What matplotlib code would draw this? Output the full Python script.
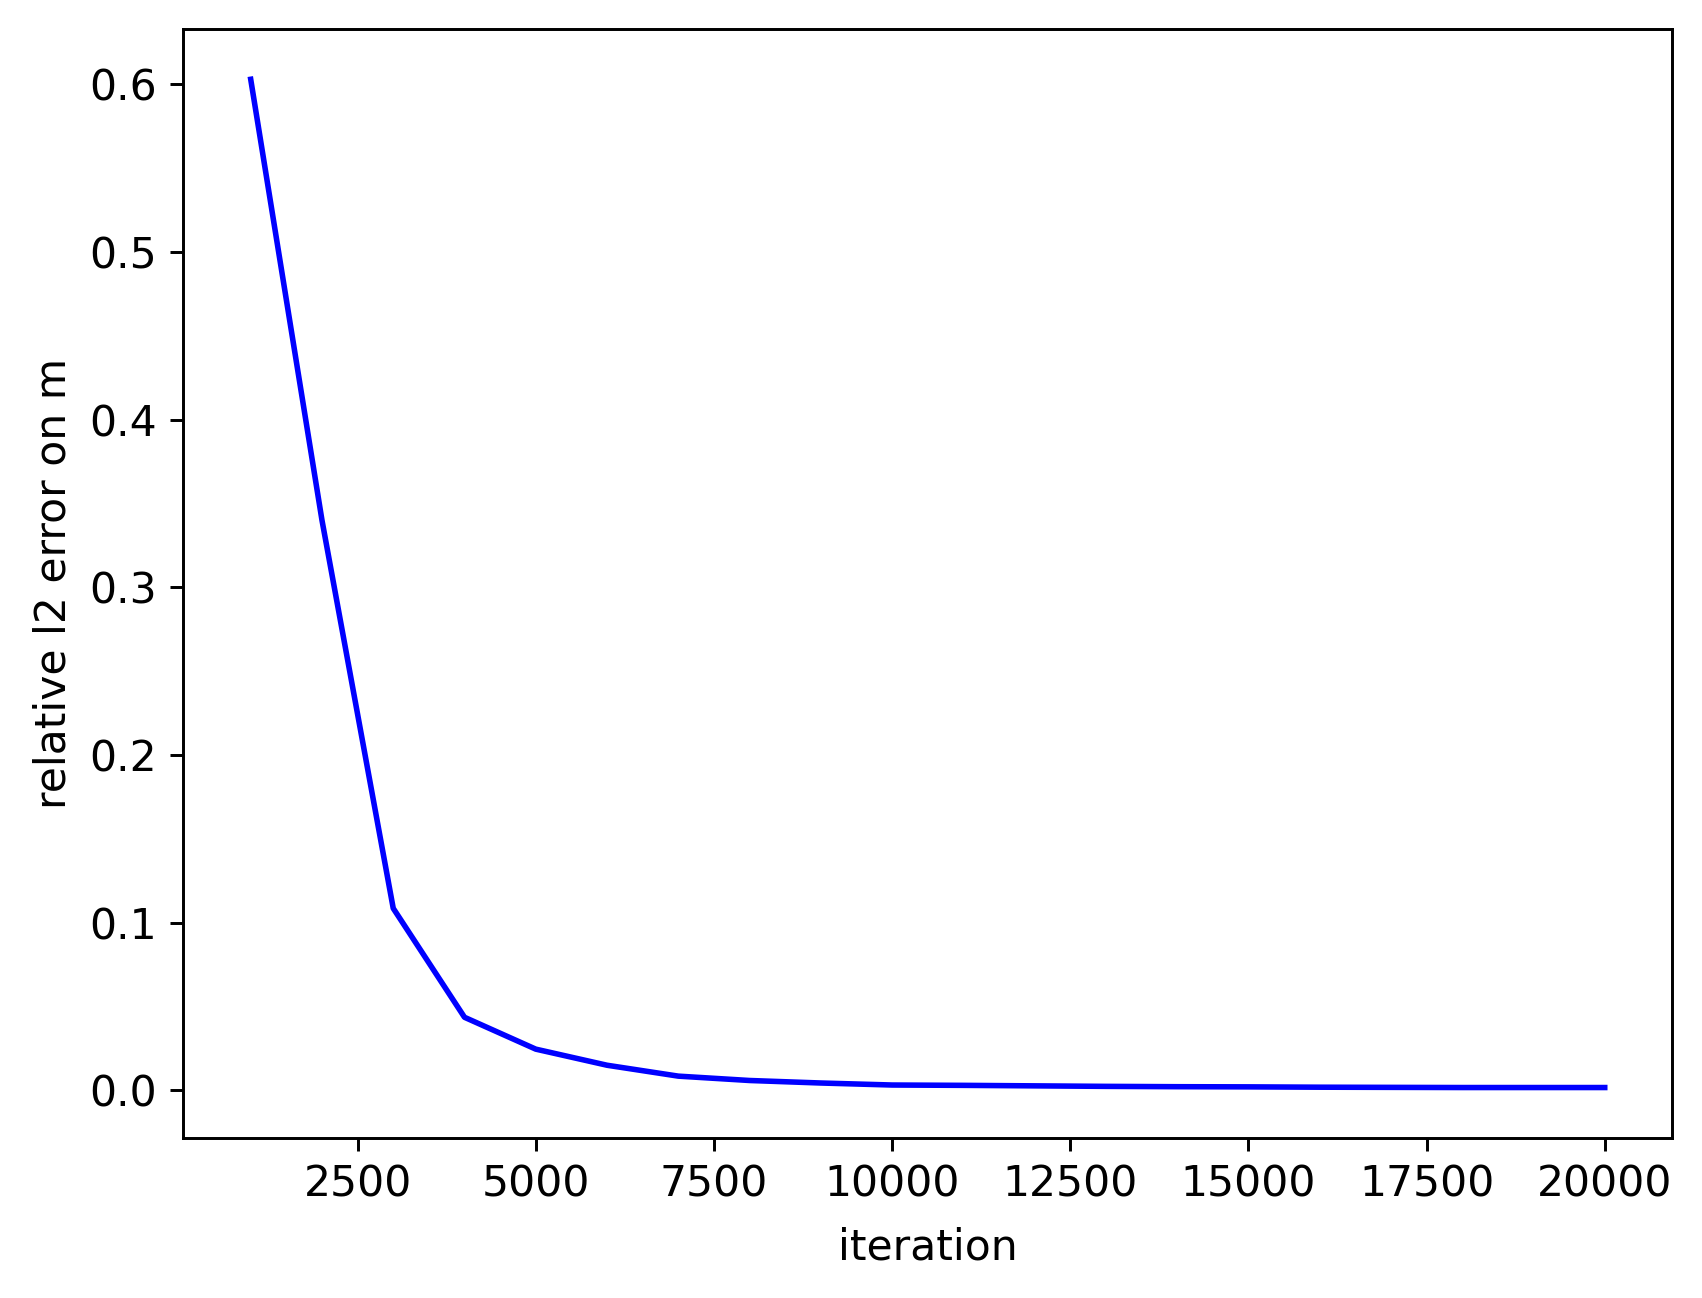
import numpy as np
import matplotlib
matplotlib.use("Agg")
import matplotlib.pyplot as plt

# iterations and relative l2 error on m
iterations = np.arange(1000, 20001, 1000)
rel_err = np.array([0.603, 0.340, 0.1085, 0.0435, 0.0245, 0.0149, 0.0084,
                    0.0058, 0.0043, 0.0031, 0.0029, 0.0026, 0.0023, 0.0021,
                    0.0020, 0.0018, 0.0017, 0.0016, 0.0016, 0.0016])

plt.rcParams['font.size'] = 11.5

fig = plt.figure(figsize=(6.4, 4.88), dpi=266)
ax = fig.add_axes([0.1075, 0.1233, 0.8749, 0.8544])

ax.plot(iterations, rel_err, color='blue', lw=1.5)
ax.set_xlabel("iteration", labelpad=5.5)
ax.set_ylabel("relative l2 error on m")
ax.set_xticks([2500, 5000, 7500, 10000, 12500, 15000, 17500, 20000])

fig.savefig("out.png", dpi=266)
